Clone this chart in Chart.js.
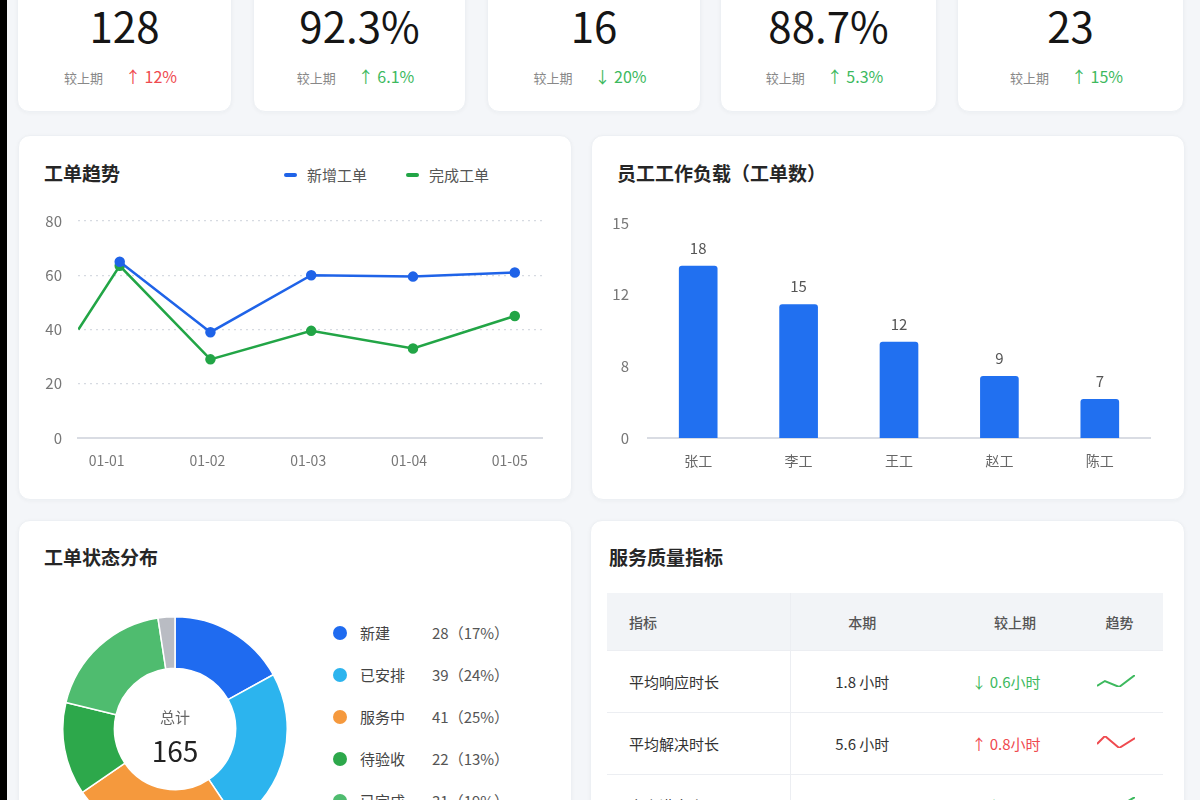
<!DOCTYPE html>
<html lang="zh-CN">
<head>
<meta charset="utf-8">
<title>工单看板</title>
<script src="https://cdn.jsdelivr.net/npm/chart.js@4.4.1/dist/chart.umd.min.js"></script>
<style>
  body { margin: 0; width: 1200px; height: 800px; overflow: hidden; position: relative;
         background: #f4f6f9; font-family: 'Noto Sans CJK SC', 'Noto Sans', sans-serif; color: #222; }
  .strip { position: absolute; left: 0; top: 0; width: 7px; height: 800px; background: #000; }
  .card { position: absolute; background: #fff; border: 1px solid #edf0f4; border-radius: 12px;
          box-shadow: 0 1px 4px rgba(30, 40, 60, 0.04); box-sizing: border-box; }
  .kpi-num { position: absolute; left: 0; right: 0; top: -7px; text-align: center; font-size: 42px; color: #151515; }
  .kpi-sub { position: absolute; left: 0; right: 8px; top: 63px; text-align: center; font-size: 13px; color: #888; line-height: 24px; }
  .kpi-sub span { margin-left: 22px; font-size: 16px; }
  .bad { color: #ef4a4f; }
  .good { color: #3db95e; }
  .title { position: absolute; font-size: 19px; font-weight: 600; color: #262626; line-height: 24px; }
  .legend-item { position: absolute; font-size: 15px; color: #555; line-height: 20px; }
  .legend-item i { position: absolute; left: -23px; top: 8px; width: 13px; height: 4px; border-radius: 2px; }
  canvas { position: absolute; }
  .total { position: absolute; left: 115px; width: 120px; text-align: center; }
  .st-row { position: absolute; left: 333px; font-size: 15px; line-height: 20px; color: #444; }
  .st-row b { position: absolute; left: 0; top: 3px; width: 14px; height: 14px; border-radius: 50%; }
  .st-row .nm { position: absolute; left: 27px; white-space: nowrap; }
  .st-row .vl { position: absolute; left: 99px; white-space: nowrap; color: #555; }
  table { position: absolute; left: 607px; top: 593px; width: 556px; border-collapse: collapse; table-layout: fixed;
          font-size: 15px; color: #333; }
  th { height: 57px; background: #f2f4f7; font-weight: 500; color: #555; font-size: 14px; }
  td { height: 61px; border-top: 1px solid #eceef2; }
  th, td { padding: 0; text-align: center; }
  .c1 { text-align: left; padding-left: 22px; border-right: 1px solid #eceef2; }
</style>
</head>
<body>
<div class="strip"></div>

<div id="kpis"></div>

<div class="card" style="left:18px; top:135px; width:554px; height:365px;"></div>
<div class="title" style="left:44px; top:161px;">工单趋势</div>
<div class="legend-item" style="left:307px; top:165px;"><i style="background:#1f63e8"></i>新增工单</div>
<div class="legend-item" style="left:429px; top:165px;"><i style="background:#22a546"></i>完成工单</div>
<canvas id="trend" width="530" height="290" style="left:30px; top:200px; width:530px; height:290px;"></canvas>

<div class="card" style="left:591px; top:135px; width:594px; height:365px;"></div>
<div class="title" style="left:617px; top:161px;">员工工作负载（工单数）</div>
<canvas id="workload" width="575" height="290" style="left:600px; top:200px; width:575px; height:290px;"></canvas>

<div class="card" style="left:18px; top:520px; width:554px; height:320px;"></div>
<div class="title" style="left:44px; top:545px;">工单状态分布</div>
<canvas id="status" width="226" height="226" style="left:62px; top:616px; width:226px; height:226px;"></canvas>
<div class="total" style="top:706px; font-size:15px; color:#666; line-height:22px;">总计</div>
<div class="total" style="top:731px; font-size:28px; color:#222; line-height:38px;">165</div>
<div id="statusLegend"></div>

<div class="card" style="left:590px; top:520px; width:595px; height:320px;"></div>
<div class="title" style="left:609px; top:545px;">服务质量指标</div>
<table id="quality"></table>
<div id="sparks"></div>

<script>
// KPI cards (titles are cut off above the viewport)
const kpiValues = ['128', '92.3%', '16', '88.7%', '23'];
const kpiDeltas = ['↑ 12%', '↑ 6.1%', '↓ 20%', '↑ 5.3%', '↑ 15%'];
const kpiTones = ['bad', 'good', 'good', 'good', 'good'];

// 工单趋势
const trendDates = ['01-01', '01-02', '01-03', '01-04', '01-05'];
const trendYTicks = [0, 20, 40, 60, 80];
const trendNewX = [1.13, 2.03, 3.03, 4.04, 5.05];
const trendNew = [65, 39, 60, 59.5, 61];
const trendDoneX = [0.72, 1.13, 2.03, 3.03, 4.04, 5.05];
const trendDone = [40, 63.5, 29, 39.5, 33, 45];

// 员工工作负载 (axis labels and printed values as shown in the picture)
const staff = ['张工', '李工', '王工', '赵工', '陈工'];
const workloadShown = [18, 15, 12, 9, 7];
const workloadBars = [12.0, 9.3, 6.7, 4.3, 2.7];
const workloadTickLabels = ['0', '8', '12', '15'];

// 工单状态分布
const statusNames = ['新建', '已安排', '服务中', '待验收', '已完成', '已取消'];
const statusCounts = [28, 39, 41, 22, 31, 4];
const statusPct = ['17%', '24%', '25%', '13%', '19%', '2%'];
const statusColors = ['#1f6bf0', '#2cb4ee', '#f5993d', '#2da84b', '#4fbc6f', '#b9bcc3'];

// 服务质量指标
const qualityNames = ['平均响应时长', '平均解决时长', '客户满意度'];
const qualityNow = ['1.8 小时', '5.6 小时', '4.7/5'];
const qualityDelta = ['↓ 0.6小时', '↑ 0.8小时', '↑ 0.2'];
const qualityTones = ['good', 'bad', 'good'];
const sparkX = [0, 0.5, 1.4, 2.4];
const sparkValues = [[4, 9, 3, 15], [8, 16, 4, 14], [3, 6, 5, 12]];

Chart.defaults.font.family = "'Noto Sans CJK SC', 'Noto Sans', sans-serif";
Chart.defaults.animation = false;

// KPI cards
const lefts = [17, 253, 487, 720, 957];
const widths = [215, 213, 214, 217, 227];
let html = '';
kpiValues.forEach((v, i) => {
    html += `<div class="card" style="left:${lefts[i]}px; top:-40px; width:${widths[i]}px; height:152px;">
      <div style="position:absolute; left:0; right:0; top:40px; height:112px;">
        <div class="kpi-num">${v}</div>
        <div class="kpi-sub">较上期<span class="${kpiTones[i]}">${kpiDeltas[i]}</span></div>
      </div></div>`;
});
document.getElementById('kpis').innerHTML = html;

// fixed axis sizes so the plot areas line up with the picture
function fixWidth(w) {
    return s => { s.width = w; s.paddingTop = 0; s.paddingBottom = 0; };
}
function fixHeight(h) {
    return s => { s.height = h; s.paddingLeft = 0; s.paddingRight = 0; };
}

new Chart(document.getElementById('trend'), {
    type: 'line',
    data: {
        datasets: [
            {
                label: '新增工单',
                data: trendNew.map((v, i) => ({ x: trendNewX[i], y: v })),
                borderColor: '#1f63e8',
                backgroundColor: '#1f63e8',
                borderWidth: 2.5,
                pointRadius: 4,
            },
            {
                label: '完成工单',
                data: trendDone.map((v, i) => ({ x: trendDoneX[i], y: v })),
                borderColor: '#22a546',
                backgroundColor: '#22a546',
                borderWidth: 2.5,
                pointRadius: trendDone.map((v, i) => i === 0 ? 0 : 4),
            }
        ]
    },
    options: {
        responsive: false,
        layout: { padding: { left: 8, right: 18, top: 21, bottom: 12 } },
        plugins: { legend: { display: false }, tooltip: { enabled: false } },
        scales: {
            x: {
                type: 'linear',
                min: 0.716,
                max: 5.32,
                afterBuildTicks: s => { s.ticks = trendDates.map((d, i) => ({ value: i + 1 })); },
                afterFit: fixHeight(40),
                ticks: { callback: (v, i) => trendDates[i], color: '#777', font: { size: 14 }, padding: 6, autoSkip: false, maxRotation: 0 },
                grid: { display: false },
                border: { display: true, color: '#d9dce3', width: 2 }
            },
            y: {
                min: 0,
                max: 80,
                afterBuildTicks: s => { s.ticks = trendYTicks.map(v => ({ value: v })); },
                afterFit: fixWidth(40),
                ticks: { color: '#777', font: { size: 15 }, padding: 16 },
                grid: { color: '#d6dae1', lineWidth: 1.2, drawTicks: false },
                border: { display: false, dash: [2, 4] }
            }
        }
    }
});

const barValueLabels = {
    id: 'barValueLabels',
    afterDatasetsDraw(chart) {
        const ctx = chart.ctx;
        ctx.save();
        ctx.font = "15px 'Noto Sans CJK SC', 'Noto Sans', sans-serif";
        ctx.fillStyle = '#555';
        ctx.textAlign = 'center';
        ctx.textBaseline = 'middle';
        chart.getDatasetMeta(0).data.forEach((bar, i) => {
            ctx.fillText(String(workloadShown[i]), bar.x, bar.y - 18);
        });
        ctx.restore();
    }
};

new Chart(document.getElementById('workload'), {
    type: 'bar',
    data: {
        labels: staff,
        datasets: [{
            data: workloadBars,
            backgroundColor: '#2170f0',
            borderRadius: 3,
            borderSkipped: 'bottom',
            barThickness: 38
        }]
    },
    options: {
        responsive: false,
        layout: { padding: { left: 8, right: 25, top: 23, bottom: 12 } },
        plugins: { legend: { display: false }, tooltip: { enabled: false } },
        scales: {
            x: {
                afterFit: fixHeight(40),
                ticks: { color: '#666', font: { size: 14 }, padding: 6 },
                grid: { display: false },
                border: { display: true, color: '#d9dce3', width: 2 }
            },
            y: {
                min: 0,
                max: 15,
                afterFit: fixWidth(40),
                ticks: { stepSize: 5, callback: (v, i) => workloadTickLabels[i], color: '#777', font: { size: 15 }, padding: 11 },
                grid: { display: false },
                border: { display: false }
            }
        }
    },
    plugins: [barValueLabels]
});

new Chart(document.getElementById('status'), {
    type: 'doughnut',
    data: {
        labels: statusNames,
        datasets: [{
            data: statusCounts,
            backgroundColor: statusColors,
            borderColor: '#ffffff',
            borderWidth: 1.5,
            hoverOffset: 0
        }]
    },
    options: {
        responsive: false,
        cutout: '54%',
        layout: { padding: 0 },
        plugins: { legend: { display: false }, tooltip: { enabled: false } }
    }
});

let leg = '';
statusNames.forEach((n, i) => {
    leg += `<div class="st-row" style="top:${623 + i * 42}px;"><b style="background:${statusColors[i]}"></b>
      <span class="nm">${n}</span><span class="vl">${statusCounts[i]}（${statusPct[i]}）</span></div>`;
});
document.getElementById('statusLegend').innerHTML = leg;

let rows = '<colgroup><col style="width:183px"><col style="width:144px"><col style="width:144px"><col></colgroup>' +
    '<tr><th class="c1">指标</th><th>本期</th><th style="padding-left:18px">较上期</th><th style="padding-right:2px">趋势</th></tr>';
qualityNames.forEach((n, i) => {
    rows += `<tr><td class="c1">${n}</td><td>${qualityNow[i]}</td><td class="${qualityTones[i]}">${qualityDelta[i]}</td><td></td></tr>`;
});
document.getElementById('quality').innerHTML = rows;

let sp = '';
sparkValues.forEach((vals, i) => {
    sp += `<canvas id="spark${i}" width="42" height="16" style="left:1095px; top:${673 + i * 61}px; width:42px; height:16px;"></canvas>`;
});
document.getElementById('sparks').innerHTML = sp;

sparkValues.forEach((vals, i) => {
    const color = qualityTones[i] === 'good' ? '#3db95e' : '#ef4a4f';
    new Chart(document.getElementById('spark' + i), {
        type: 'line',
        data: { datasets: [{ data: vals.map((v, k) => ({ x: sparkX[k], y: v })), borderColor: color, borderWidth: 2, pointRadius: 0 }] },
        options: {
            responsive: false,
            layout: { padding: 2 },
            plugins: { legend: { display: false }, tooltip: { enabled: false } },
            scales: {
                x: { type: 'linear', display: false, min: Math.min(...sparkX), max: Math.max(...sparkX) },
                y: { display: false, min: Math.min(...vals), max: Math.max(...vals) }
            }
        }
    });
});
</script>
</body>
</html>
